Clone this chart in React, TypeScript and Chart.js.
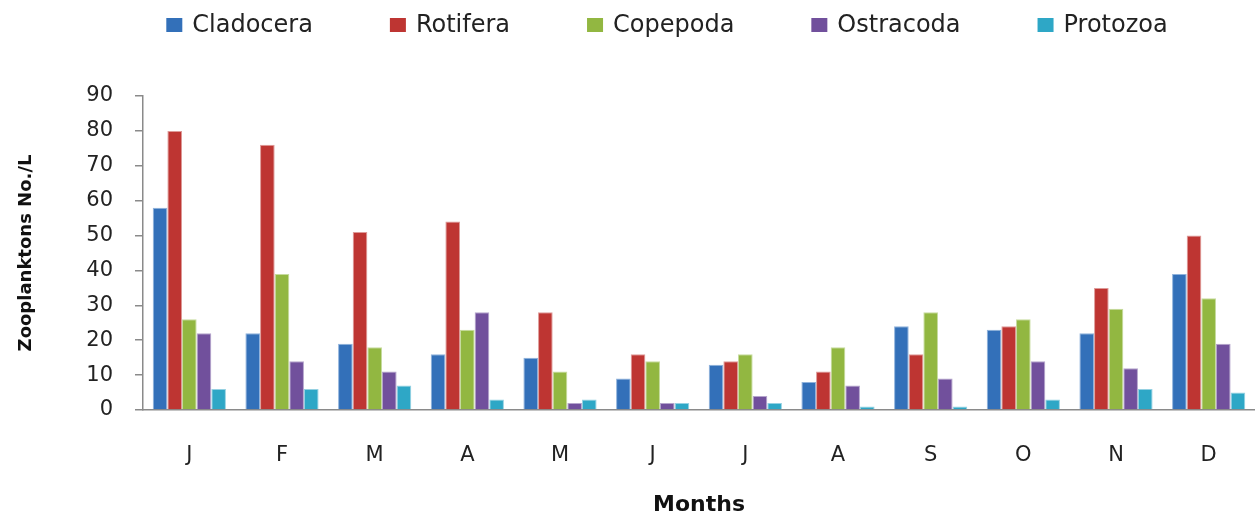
import React, { useEffect, useRef } from "react";
import { Chart, registerables } from "chart.js";

Chart.register(...registerables);

const months = ["J", "F", "M", "A", "M", "J", "J", "A", "S", "O", "N", "D"];
const cladocera = [58, 22, 19, 16, 15, 9, 13, 8, 24, 23, 22, 39];
const rotifera = [80, 76, 51, 54, 28, 16, 14, 11, 16, 24, 35, 50];
const copepoda = [26, 39, 18, 23, 11, 14, 16, 18, 28, 26, 29, 32];
const ostracoda = [22, 14, 11, 28, 2, 2, 4, 7, 9, 14, 12, 19];
const protozoa = [6, 6, 7, 3, 3, 2, 2, 1, 1, 3, 6, 5];

const seriesNames = ["Cladocera", "Rotifera", "Copepoda", "Ostracoda", "Protozoa"];
const seriesColors = ["#3370B9", "#BE3532", "#92B741", "#71509C", "#2EA7C6"];
const seriesEdges = ["#8FB2DC", "#DE9A98", "#C6DB9E", "#B5A5CC", "#95D1E2"];
const yTicks = [0, 10, 20, 30, 40, 50, 60, 70, 80, 90];

const FONT = '"DejaVu Sans", Verdana, sans-serif';

const customLegend = {
  id: "customLegend",
  afterDraw(chart: any) {
    const ctx = chart.ctx;
    ctx.save();
    ctx.font = `24px ${FONT}`;
    ctx.textBaseline = "middle";
    ctx.textAlign = "left";
    const boxW = 16;
    const boxH = 14;
    const gapText = 10;
    const gapItem = 77;
    const cy = 25;
    const items = chart.data.datasets.map((ds: any) => ({
      label: ds.label,
      color: ds.backgroundColor,
      w: ctx.measureText(ds.label).width,
    }));
    let total = 0;
    items.forEach((it: any, i: number) => {
      total += boxW + gapText + it.w + (i < items.length - 1 ? gapItem : 0);
    });
    let x = 667 - total / 2;
    items.forEach((it: any) => {
      ctx.fillStyle = it.color;
      ctx.fillRect(x, cy - boxH / 2, boxW, boxH);
      x += boxW + gapText;
      ctx.fillStyle = "#222222";
      ctx.fillText(it.label, x, cy + 1);
      x += it.w + gapItem;
    });
    ctx.restore();
  },
};

export default function App() {
  const ref = useRef<HTMLCanvasElement | null>(null);

  useEffect(() => {
    if (!ref.current) return;
    const values = [cladocera, rotifera, copepoda, ostracoda, protozoa];
    const chart = new Chart(ref.current, {
      type: "bar",
      data: {
        labels: months,
        datasets: values.map((v, i) => ({
          label: seriesNames[i],
          data: v,
          backgroundColor: seriesColors[i],
          borderColor: seriesEdges[i],
          borderWidth: 1,
          categoryPercentage: 0.79,
          barPercentage: 1.0,
        })),
      },
      options: {
        animation: false,
        responsive: true,
        maintainAspectRatio: false,
        layout: { padding: { top: 96, left: 0, right: 0, bottom: 0 } },
        plugins: {
          legend: { display: false },
          tooltip: { enabled: false },
          title: { display: false },
        },
        scales: {
          x: {
            grid: { display: false, drawTicks: false },
            border: { display: true, color: "#8a8a8a", width: 1.5 },
            ticks: {
              color: "#222222",
              font: { family: FONT, size: 21 },
              padding: 33,
            },
            title: {
              display: true,
              text: "Months",
              color: "#111111",
              font: { family: FONT, size: 22, weight: "bold", lineHeight: 1 },
              padding: { top: 0, bottom: -1 },
            },
            afterFit: (scale: any) => {
              scale.height = 105;
            },
          },
          y: {
            min: 0,
            max: 90,
            afterBuildTicks: (scale: any) => {
              scale.ticks = yTicks.map((v) => ({ value: v }));
            },
            grid: {
              display: true,
              drawOnChartArea: false,
              drawTicks: true,
              tickLength: 8,
              color: "#8a8a8a",
              lineWidth: 1.5,
            },
            border: { display: true, color: "#8a8a8a", width: 1.5 },
            ticks: {
              color: "#222222",
              font: { family: FONT, size: 21 },
              padding: 22,
            },
            title: {
              display: true,
              text: "Zooplanktons No./L",
              color: "#111111",
              font: { family: FONT, size: 18, weight: "bold", lineHeight: 1.2 },
              padding: { top: 16, bottom: 0 },
            },
            afterFit: (scale: any) => {
              scale.width = 143;
            },
          },
        },
      },
      plugins: [customLegend],
    });
    return () => chart.destroy();
  }, []);

  return (
    <div style={{ position: "absolute", left: 0, top: 0, width: 1255, height: 515, background: "#ffffff" }}>
      <canvas ref={ref} />
    </div>
  );
}
